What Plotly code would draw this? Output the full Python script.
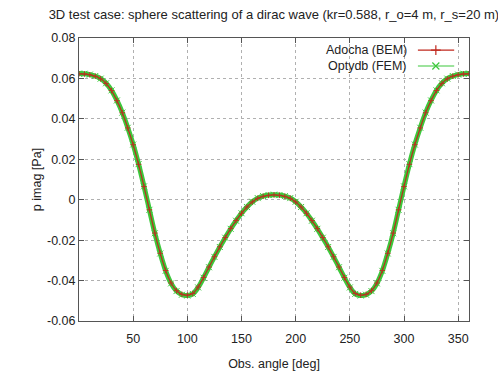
import plotly.graph_objects as go

# Observation angles [deg]
angles = list(range(0, 361, 5))

# Adocha (BEM) - p imag [Pa] (0..180, mirrored side read as symmetric)
bem_half = [0.0623, 0.0622, 0.0618, 0.0611, 0.0598, 0.0575, 0.0540, 0.0490, 0.0430,
            0.0355, 0.0272, 0.0175, 0.0065, -0.0050, -0.0165, -0.0265, -0.0350,
            -0.0412, -0.0450, -0.0468, -0.0472, -0.0464, -0.0432, -0.0385, -0.0333,
            -0.0282, -0.0233, -0.0187, -0.0143, -0.0103, -0.0067, -0.0036, -0.0011,
            0.0007, 0.0017, 0.0022, 0.0024]
bem_vals = bem_half + bem_half[-2::-1]

# Optydb (FEM) - p imag [Pa]
fem_half = [0.0624, 0.0623, 0.0619, 0.0612, 0.0599, 0.0576, 0.0541, 0.0491, 0.0431,
            0.0356, 0.0273, 0.0176, 0.0066, -0.0050, -0.0166, -0.0266, -0.0352,
            -0.0414, -0.0452, -0.0470, -0.0474, -0.0466, -0.0434, -0.0386, -0.0334,
            -0.0283, -0.0234, -0.0188, -0.0144, -0.0104, -0.0067, -0.0036, -0.0010,
            0.0008, 0.0018, 0.0023, 0.0025]
fem_vals = fem_half + fem_half[-2::-1]

x_ticks = [50, 100, 150, 200, 250, 300, 350]
y_ticks = [-0.06, -0.04, -0.02, 0, 0.02, 0.04, 0.06, 0.08]
y_ticktext = ["-0.06", "-0.04", "-0.02", "0", "0.02", "0.04", "0.06", "0.08"]

RED = "#c0281e"
GREEN = "#3cc83c"
FONT = "Liberation Sans, Arial, sans-serif"
TXT = "#222222"

fig = go.Figure()
fig.add_trace(go.Scatter(
    x=angles, y=fem_vals, mode="lines+markers", name="Optydb (FEM)",
    line=dict(color=GREEN, width=5, shape="spline"),
    marker=dict(symbol="x-thin", size=6, line=dict(color=GREEN, width=1)),
    showlegend=False))
fig.add_trace(go.Scatter(
    x=angles, y=bem_vals, mode="lines+markers", name="Adocha (BEM)",
    line=dict(color=RED, width=1.3, shape="spline"),
    marker=dict(symbol="cross-thin", size=4, line=dict(color=RED, width=1)),
    opacity=0.9, showlegend=False))

# custom gnuplot-style legend (text left of sample)
legend_items = [("Adocha (BEM)", RED, "cross-thin", 0.957),
                ("Optydb (FEM)", GREEN, "x-thin", 0.901)]
for label, col, sym, yy in legend_items:
    fig.add_annotation(x=0.845, y=yy, xref="paper", yref="paper", text=label,
                       showarrow=False, xanchor="right", yanchor="middle",
                       font=dict(family=FONT, size=12.5, color=TXT))
    fig.add_shape(type="line", xref="paper", yref="paper", x0=0.869, x1=0.962,
                  y0=yy, y1=yy, line=dict(color=col, width=1.2))
    fig.add_trace(go.Scatter(x=[0.915], y=[yy], xaxis="x2", yaxis="y2", mode="markers",
                             marker=dict(symbol=sym, size=7, line=dict(color=col, width=1.2)),
                             showlegend=False, hoverinfo="skip"))

axis_common = dict(showline=True, linecolor="#555555", linewidth=1, mirror="allticks",
                   ticks="inside", ticklen=5, tickcolor="#555555", showgrid=True,
                   gridcolor="#b0b0b0", griddash="dot", gridwidth=1, zeroline=False,
                   automargin=False,
                   tickfont=dict(family=FONT, size=12.5, color=TXT))

fig.update_layout(
    width=498, height=371,
    margin=dict(l=79, r=29, t=38, b=50),
    paper_bgcolor="white", plot_bgcolor="white",
    title=dict(text="3D test case: sphere scattering of a dirac wave (kr=0.588, r_o=4 m, r_s=20 m)",
               x=0.55, xanchor="center", y=0.962, yanchor="middle",
               font=dict(family=FONT, size=13, color=TXT)),
    xaxis=dict(range=[0, 360], tickvals=x_ticks, ticktext=[str(v) for v in x_ticks],
               ticklabelstandoff=6,
               title=dict(text="Obs. angle [deg]", font=dict(family=FONT, size=12.5, color=TXT), standoff=14),
               **axis_common),
    yaxis=dict(range=[-0.06, 0.08], tickvals=y_ticks, ticktext=y_ticktext,
               title=dict(text="p imag [Pa]", font=dict(family=FONT, size=12.5, color=TXT), standoff=2),
               **axis_common),
    xaxis2=dict(range=[0, 1], overlaying="x", visible=False),
    yaxis2=dict(range=[0, 1], overlaying="y", visible=False),
    showlegend=False,
)

fig.write_html("out.html")
